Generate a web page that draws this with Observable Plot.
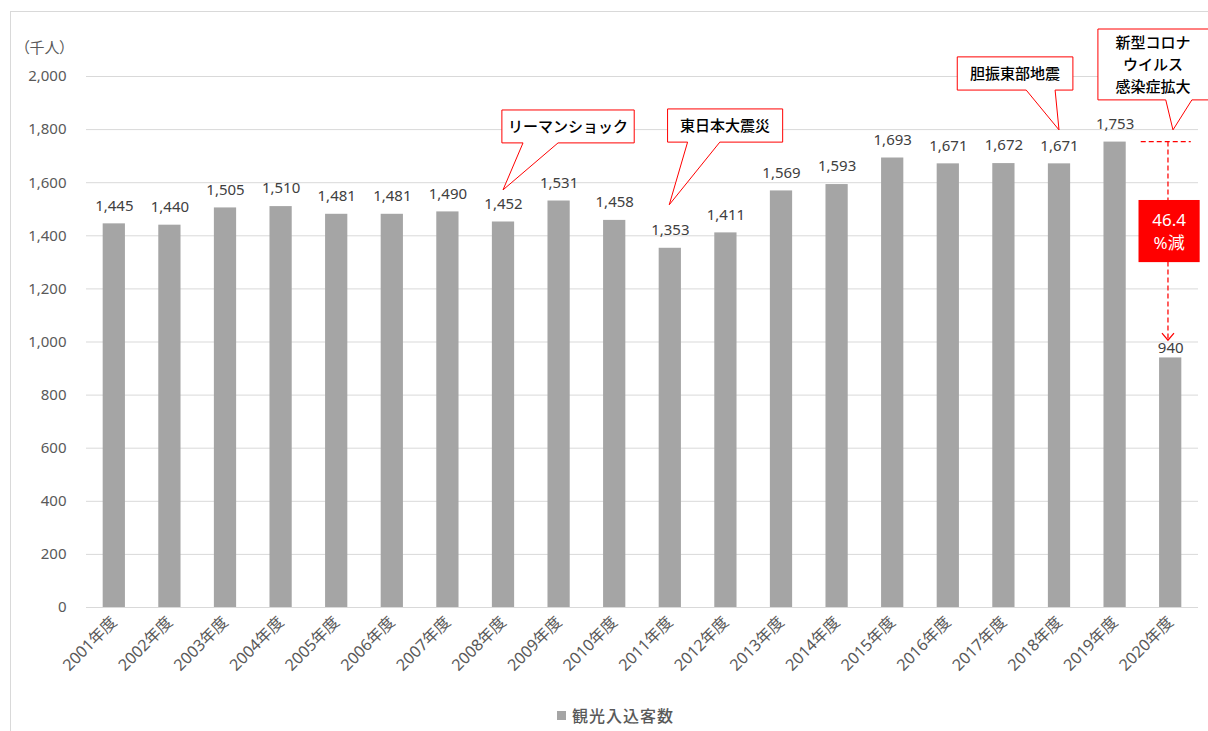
<!DOCTYPE html>
<html>
<head>
<meta charset="utf-8">
<script src="https://cdn.jsdelivr.net/npm/d3@7"></script>
<script src="https://cdn.jsdelivr.net/npm/@observablehq/plot@0.6"></script>
<style>
  body { margin: 0; background: #fff; font-family: "Noto Sans", "Noto Sans CJK JP", sans-serif; }
  #wrap { position: relative; width: 1208px; height: 731px; overflow: hidden; background: #fff; }
  #frame { position: absolute; left: 10px; top: 11px; width: 1220px; height: 760px; border: 1px solid #d9d9d9; box-sizing: border-box; }
  #chart { position: absolute; left: 0; top: 0; }
  #legend { position: absolute; left: 557px; top: 703px; height: 24px; display: flex; align-items: center; font-size: 16px; letter-spacing: 1px; font-weight: 500; color: #595959; font-family: "Noto Sans CJK JP", sans-serif; }
  #legend .sw { width: 9px; height: 9px; background: #a5a5a5; margin-right: 6px; }
</style>
</head>
<body>
<div id="wrap">
  <div id="frame"></div>
  <div id="chart"></div>
  <div id="legend"><span class="sw"></span><span id="legendText"></span></div>
</div>
<script>
// ---- data ----
const years = ["2001年度","2002年度","2003年度","2004年度","2005年度","2006年度","2007年度","2008年度","2009年度","2010年度",
               "2011年度","2012年度","2013年度","2014年度","2015年度","2016年度","2017年度","2018年度","2019年度","2020年度"];
const visitors = [1445,1440,1505,1510,1481,1481,1490,1452,1531,1458,1353,1411,1569,1593,1693,1671,1672,1671,1753,940];
const yTicks = [0,200,400,600,800,1000,1200,1400,1600,1800,2000];
const seriesName = "観光入込客数";
const unitLabel = "（千人）";
const eventYears = ["2008年度","2011年度","2018年度","2020年度"];
const eventLabels = [["リーマンショック"],["東日本大震災"],["胆振東部地震"],["新型コロナ","ウイルス","感染症拡大"]];
const dropFrom = "2019年度";
const dropTo = "2020年度";
const dropLabel = ["46.4","%減"];

// ---- annotation layout (offsets in band steps, heights in data units) ----
const calloutLayout = [
  {left:-0.02, right:2.36, top:1872, bottom:1748, baseL:0.36, baseR:0.99, tip:0.0, tipValue:1571},
  {left:-0.04, right:2.03, top:1876, bottom:1751, baseL:0.32, baseR:0.90, tip:-0.01, tipValue:1515},
  {left:-1.83, right:0.25, top:2072, bottom:1947, baseL:-0.59, baseR:-0.07, tip:0.0, tipValue:1797},
  {left:-1.30, right:0.80, top:2177, bottom:1910, baseL:-0.08, baseR:0.39, tip:0.05, tipValue:1797}
];

const table = years.map((y, i) => ({year: y, value: visitors[i]}));
const fmt = d3.format(",");
const font = '"Noto Sans", "Noto Sans CJK JP", sans-serif';

const plot = Plot.plot({
  width: 1208,
  height: 700,
  marginLeft: 86,
  marginRight: 10,
  marginTop: 76,
  marginBottom: 93,
  style: {fontFamily: font, background: "transparent", overflow: "visible"},
  x: {domain: years, paddingInner: 0.6, paddingOuter: 0.3, round: false, label: null},
  y: {domain: [0, 2000], label: null},
  marks: [
    Plot.gridY(yTicks, {stroke: "#d9d9d9", strokeOpacity: 1}),
    Plot.barY(table, {x: "year", y: "value", fill: "#a5a5a5"}),
    Plot.ruleY([0], {stroke: "#d9d9d9"}),
    Plot.text(table.filter(d => d.year !== dropTo), {x: "year", y: "value", text: d => fmt(d.value), dy: -18, fill: "#404040", fontSize: 15}),
    Plot.text(table.filter(d => d.year === dropTo), {x: "year", y: "value", text: d => fmt(d.value), dy: -10, fill: "#404040", fontSize: 15}),
    Plot.axisY({ticks: yTicks, tickSize: 0, tickPadding: 20, tickFormat: d => fmt(d), fontSize: 15, fill: "#595959", label: null}),
    Plot.axisX({tickSize: 0, tickPadding: 12, tickRotate: -45, fontSize: 16, fill: "#595959", label: null})
  ]
});

document.getElementById("chart").appendChild(plot);
document.getElementById("legendText").textContent = seriesName;

// ---- overlays positioned through Plot's scales ----
const xs = plot.scale("x"), ys = plot.scale("y");
const cx = (yr, off) => xs.apply(yr) + xs.bandwidth / 2 + off * xs.step;
const svg = d3.select(plot);

// unit label
svg.append("text")
  .attr("x", xs.range[0] - 19).attr("y", ys.apply(2000) - 28)
  .attr("text-anchor", "end").attr("dy", "0.35em")
  .attr("fill", "#595959").attr("font-size", 15)
  .style("font-family", '"Noto Sans CJK JP", sans-serif')
  .style("font-feature-settings", '"palt"')
  .text(unitLabel);

// drop arrow
const dg = svg.append("g");
const vx = cx(dropTo, -0.04);
const yFrom = ys.apply(visitors[years.indexOf(dropFrom)]);
const yArrow = ys.apply(visitors[years.indexOf(dropTo)] + 65);
dg.append("line").attr("x1", cx(dropTo, -0.53)).attr("x2", cx(dropTo, 0.37))
  .attr("y1", yFrom).attr("y2", yFrom)
  .attr("stroke", "#ff0000").attr("stroke-width", 1.25).attr("stroke-dasharray", "5,3");
dg.append("line").attr("x1", vx).attr("x2", vx).attr("y1", yFrom).attr("y2", yArrow)
  .attr("stroke", "#ff0000").attr("stroke-width", 1.25).attr("stroke-dasharray", "5,3");
dg.append("path").attr("d", `M${vx - 6},${yArrow - 7}L${vx},${yArrow}L${vx + 6},${yArrow - 7}`)
  .attr("fill", "none").attr("stroke", "#ff0000").attr("stroke-width", 1.25);
const bx1 = cx(dropTo, -0.57), bx2 = cx(dropTo, 0.53);
const by1 = ys.apply(1533), by2 = ys.apply(1299);
dg.append("rect").attr("x", bx1).attr("y", by1).attr("width", bx2 - bx1).attr("height", by2 - by1).attr("fill", "#ff0000");
dropLabel.forEach((t, i) => {
  dg.append("text").attr("x", (bx1 + bx2) / 2).attr("y", (by1 + by2) / 2 + (i - 0.5) * 23)
    .attr("text-anchor", "middle").attr("dy", "0.35em").attr("fill", "#fff").attr("font-size", 17)
    .style("font-family", font).text(t);
});

// callouts
const cg = svg.append("g");
eventYears.forEach((yr, i) => {
  const c = calloutLayout[i];
  const L = cx(yr, c.left), R = cx(yr, c.right), T = ys.apply(c.top), B = ys.apply(c.bottom);
  const bl = cx(yr, c.baseL), br = cx(yr, c.baseR), tx = cx(yr, c.tip), ty = ys.apply(c.tipValue);
  cg.append("path")
    .attr("d", `M${L},${T}H${R}V${B}H${br}L${tx},${ty}L${bl},${B}H${L}Z`)
    .attr("fill", "#fff").attr("stroke", "#ff0000").attr("stroke-width", 1);
  const lines = eventLabels[i];
  const mid = (T + B) / 2;
  lines.forEach((t, j) => {
    cg.append("text").attr("x", (L + Math.min(R, 1208)) / 2).attr("y", mid + (j - (lines.length - 1) / 2) * 22)
      .attr("text-anchor", "middle").attr("dy", "0.35em").attr("fill", "#000").attr("font-size", 15)
      .attr("font-weight", 500)
      .style("font-family", '"Noto Sans CJK JP", sans-serif').text(t);
  });
});
</script>
</body>
</html>
